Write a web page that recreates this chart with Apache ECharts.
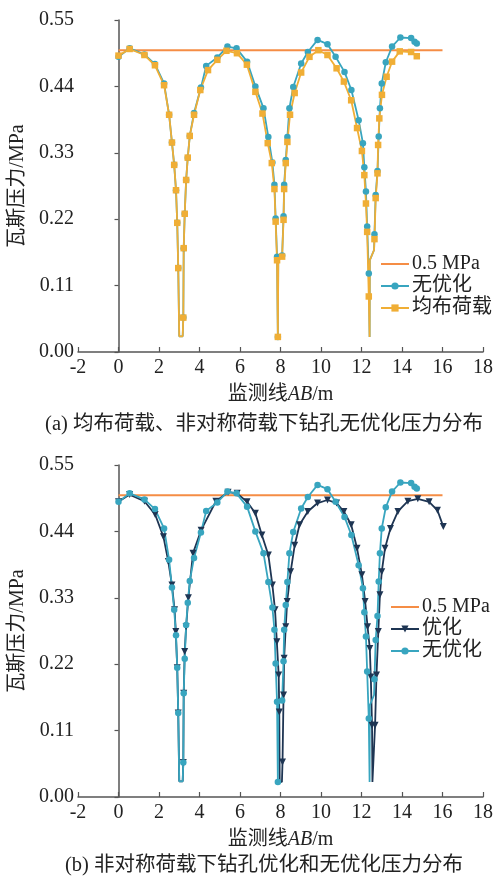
<!DOCTYPE html>
<html>
<head>
<meta charset="utf-8">
<script src="https://cdn.jsdelivr.net/npm/echarts@6/dist/echarts.min.js"></script>
<style>
  html, body { margin: 0; padding: 0; background: #fff; }
  #main { width: 496px; height: 882px; }
</style>
</head>
<body>
<div id="main"></div>
<script>
// reference line 0.5 MPa
const refX = [0, 16];
const refY = [0.5, 0.5];

// 无优化
const xNoOpt = [0, 0.55, 1.28, 1.8, 2.25, 2.5, 2.64, 2.75, 2.84, 2.9, 2.95, 3.0, 3.17, 3.2, 3.22, 3.27, 3.34, 3.42, 3.52, 3.73,
  4.07, 4.33, 4.88, 5.38, 5.83, 6.35, 6.76, 7.16, 7.4, 7.6, 7.7, 7.76, 7.83, 7.87, 7.89, 8.08, 8.15, 8.18, 8.26, 8.34,
  8.44, 8.63, 9.02, 9.35, 9.83, 10.32, 10.72, 11.16, 11.5, 11.86, 12.07, 12.14, 12.22, 12.28, 12.36, 12.4, 12.41, 12.62, 12.64, 12.7,
  12.79, 12.85, 12.91, 13.0, 13.2, 13.51, 13.92, 14.45, 14.62, 14.73];
const yNoOpt = [0.489, 0.503, 0.493, 0.477, 0.445, 0.393, 0.347, 0.31, 0.268, 0.214, 0.139, 0.026, 0.026, 0.057, 0.172, 0.229, 0.285, 0.322, 0.358, 0.396,
  0.438, 0.474, 0.488, 0.506, 0.503, 0.481, 0.44, 0.404, 0.356, 0.314, 0.277, 0.221, 0.158, 0.025, 0.155, 0.16, 0.225, 0.277, 0.318, 0.356,
  0.404, 0.439, 0.478, 0.497, 0.517, 0.51, 0.489, 0.464, 0.434, 0.384, 0.346, 0.306, 0.266, 0.208, 0.13, 0.025, 0.152, 0.169, 0.195, 0.26,
  0.3, 0.357, 0.404, 0.445, 0.48, 0.506, 0.521, 0.52, 0.514, 0.511];
const noMarkNoOpt = [3.0, 3.17, 7.89, 12.4, 12.41, 12.62];

// 均布荷载
const xUniform = [0, 0.55, 1.28, 1.8, 2.25, 2.5, 2.64, 2.75, 2.84, 2.9, 2.95, 3.0, 3.17, 3.2, 3.22, 3.27, 3.34, 3.42, 3.52, 3.73,
  4.04, 4.42, 4.88, 5.33, 5.85, 6.34, 6.76, 7.11, 7.37, 7.57, 7.7, 7.76, 7.83, 7.87, 7.89, 8.08, 8.15, 8.18, 8.26, 8.34,
  8.47, 8.7, 9.02, 9.43, 9.87, 10.32, 10.77, 11.13, 11.49, 11.78, 12.02, 12.14, 12.22, 12.28, 12.36, 12.4, 12.41, 12.62, 12.64, 12.7,
  12.79, 12.82, 12.88, 13.01, 13.24, 13.51, 13.89, 14.45, 14.73];
const yUniform = [0.491, 0.502, 0.492, 0.475, 0.442, 0.393, 0.347, 0.31, 0.268, 0.214, 0.139, 0.026, 0.026, 0.057, 0.172, 0.229, 0.285, 0.322, 0.358, 0.393,
  0.434, 0.467, 0.484, 0.499, 0.495, 0.476, 0.431, 0.395, 0.346, 0.313, 0.27, 0.216, 0.152, 0.025, 0.152, 0.158, 0.219, 0.27, 0.313, 0.348,
  0.393, 0.429, 0.463, 0.489, 0.5, 0.492, 0.47, 0.448, 0.417, 0.371, 0.333, 0.293, 0.246, 0.199, 0.092, 0.025, 0.152, 0.169, 0.187, 0.255,
  0.296, 0.343, 0.387, 0.426, 0.456, 0.481, 0.498, 0.497, 0.49];
const noMarkUniform = [3.0, 3.17, 7.89, 12.4, 12.41, 12.62];

// 优化
const xOpt = [0, 0.55, 1.28, 1.81, 2.22, 2.46, 2.64, 2.77, 2.83, 2.9, 2.95, 3.0, 3.17, 3.2, 3.22, 3.27, 3.34, 3.45, 3.68, 4.08,
  4.81, 5.41, 5.86, 6.35, 6.76, 7.08, 7.4, 7.6, 7.73, 7.82, 7.91, 7.94, 7.96, 8.07, 8.1, 8.15, 8.18, 8.26, 8.33, 8.5,
  8.7, 8.94, 9.35, 9.83, 10.32, 10.77, 11.13, 11.49, 11.78, 12.02, 12.18, 12.3, 12.41, 12.46, 12.52, 12.54, 12.63, 12.67, 12.74, 12.83,
  12.91, 13.0, 13.16, 13.43, 13.8, 14.29, 14.78, 15.34, 15.75, 16.04];
const yOpt = [0.489, 0.501, 0.49, 0.468, 0.431, 0.39, 0.351, 0.31, 0.274, 0.214, 0.139, 0.026, 0.026, 0.057, 0.172, 0.241, 0.282, 0.33, 0.404, 0.442,
  0.49, 0.505, 0.503, 0.489, 0.47, 0.434, 0.401, 0.351, 0.31, 0.257, 0.202, 0.141, 0.025, 0.025, 0.058, 0.169, 0.23, 0.282, 0.324, 0.373,
  0.417, 0.451, 0.473, 0.487, 0.492, 0.487, 0.473, 0.451, 0.412, 0.368, 0.324, 0.282, 0.246, 0.199, 0.119, 0.025, 0.025, 0.119, 0.202, 0.274,
  0.335, 0.373, 0.412, 0.445, 0.473, 0.49, 0.494, 0.489, 0.475, 0.448];
const noMarkOpt = [3.0, 3.17, 7.96, 8.07, 12.54, 12.63];

const yTicks = [0, 0.11, 0.22, 0.33, 0.44, 0.55];

const FONT = '"Liberation Serif", "Times New Roman", "DejaVu Serif", "Noto Sans CJK SC", serif';
const ORANGE = '#f58d45';
const BLUE = '#38a5bf';
const YELLOW = '#f0ae35';
const NAVY = '#1e3553';

const pts = (xs, ys, hide) => xs.map((x, i) =>
  hide.includes(x) ? { value: [x, ys[i]], symbol: 'none' } : [x, ys[i]]);

const xAxisOf = (gi) => ({
  gridIndex: gi,
  type: 'value',
  min: -2, max: 18, interval: 2,
  axisLine: { lineStyle: { color: '#555', width: 1.5 } },
  axisTick: { inside: true, length: 5, lineStyle: { color: '#555', width: 1.2 } },
  axisLabel: { color: '#222', fontFamily: FONT, fontSize: 20, margin: 6 },
  splitLine: { show: false },
  name: '{a|监测线}{i|AB}{a|/m}',
  nameLocation: 'middle',
  nameGap: 33,
  nameTextStyle: {
    rich: {
      a: { fontFamily: FONT, fontSize: 20, color: '#222' },
      i: { fontFamily: FONT, fontSize: 20, color: '#222', fontStyle: 'italic' }
    }
  }
});

const yAxisOf = (gi) => ({
  gridIndex: gi,
  type: 'value',
  min: 0, max: 0.55, interval: 0.11,
  axisLine: { show: true, lineStyle: { color: '#555', width: 1.5 } },
  axisTick: { show: true, length: 4, lineStyle: { color: '#555', width: 1.2 } },
  axisLabel: {
    color: '#222', fontFamily: FONT, fontSize: 20, margin: 4,
    formatter: (v) => yTicks.some((t) => Math.abs(t - v) < 1e-6) ? v.toFixed(2) : ''
  },
  splitLine: { show: false },
  name: '瓦斯压力/MPa',
  nameLocation: 'middle',
  nameGap: 50,
  nameTextStyle: { fontFamily: FONT, fontSize: 20, color: '#222' }
});

const refSeries = (gi) => ({
  name: '0.5 MPa', type: 'line', xAxisIndex: gi, yAxisIndex: gi,
  data: pts(refX, refY, []), symbol: 'none',
  lineStyle: { color: ORANGE, width: 2 }, itemStyle: { color: ORANGE }
});

const noOptSeries = (gi) => ({
  name: '无优化', type: 'line', xAxisIndex: gi, yAxisIndex: gi,
  data: pts(xNoOpt, yNoOpt, noMarkNoOpt),
  symbol: 'circle', symbolSize: 6.5,
  lineStyle: { color: BLUE, width: 1.8 }, itemStyle: { color: BLUE }
});

// the reference line shows no marker in the legend
const legendOf = (top, left, names) => ({
  orient: 'vertical', top: top, left: left,
  itemWidth: 28, itemHeight: 9, itemGap: 2,
  data: names.map((n) => n === '0.5 MPa'
    ? { name: n, itemStyle: { opacity: 0, color: 'rgba(0,0,0,0)', borderWidth: 0 } }
    : n),
  textStyle: { fontFamily: FONT, fontSize: 20, color: '#222', lineHeight: 20, padding: [0, 0, 0, -2] }
});

const myChart = echarts.init(document.getElementById('main'));

const option = {
  animation: false,
  backgroundColor: '#fff',
  grid: [
    { left: 72, right: 13, top: 20, height: 332 },
    { left: 72, right: 13, top: 465, height: 332 }
  ],
  xAxis: [xAxisOf(0), xAxisOf(1)],
  yAxis: [yAxisOf(0), yAxisOf(1)],
  legend: [
    legendOf(249, 375, ['0.5 MPa', '无优化', '均布荷载']),
    legendOf(592, 385, ['0.5 MPa', '优化', '无优化'])
  ],
  series: [
    refSeries(0),
    noOptSeries(0),
    {
      name: '均布荷载', type: 'line', xAxisIndex: 0, yAxisIndex: 0,
      data: pts(xUniform, yUniform, noMarkUniform),
      symbol: 'rect', symbolSize: 6.5,
      lineStyle: { color: YELLOW, width: 1.8 }, itemStyle: { color: YELLOW }
    },
    refSeries(1),
    {
      name: '优化', type: 'line', xAxisIndex: 1, yAxisIndex: 1,
      data: pts(xOpt, yOpt, noMarkOpt),
      symbol: 'triangle', symbolRotate: 180, symbolSize: 7,
      lineStyle: { color: NAVY, width: 1.8 }, itemStyle: { color: NAVY }
    },
    noOptSeries(1)
  ],
  graphic: [
    {
      type: 'text', x: 264, y: 414,
      style: { text: '(a) 均布荷载、非对称荷载下钻孔无优化压力分布', font: '20.5px ' + FONT, fill: '#222', align: 'center' }
    },
    {
      type: 'text', x: 264, y: 855,
      style: { text: '(b) 非对称荷载下钻孔优化和无优化压力分布', font: '20.5px ' + FONT, fill: '#222', align: 'center' }
    }
  ]
};

myChart.setOption(option);
</script>
</body>
</html>
